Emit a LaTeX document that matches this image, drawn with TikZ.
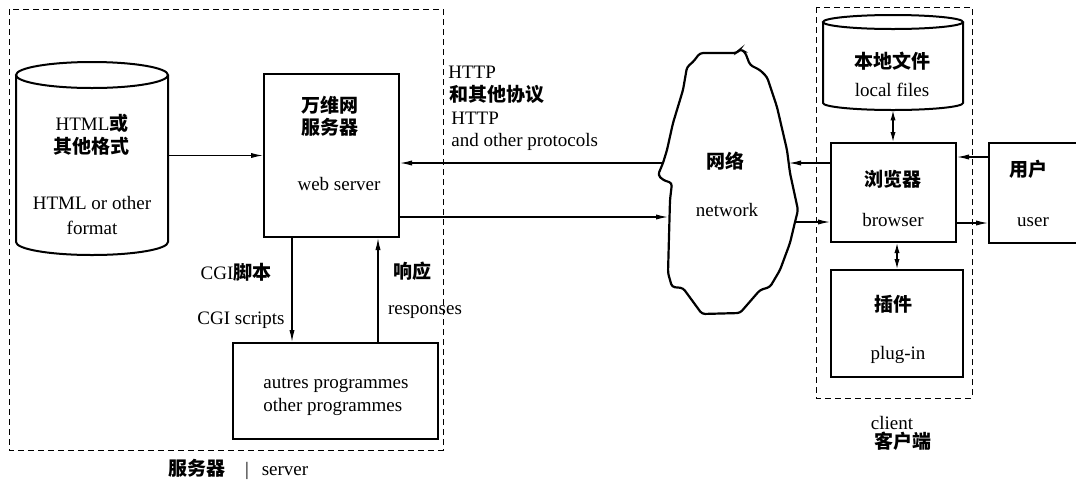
\documentclass[tikz,border=0pt]{standalone}
\usepackage{fontspec}
\setmainfont{Liberation Serif}
\newfontfamily\cjk{Noto Sans CJK SC}
\usetikzlibrary{arrows.meta}
\newcommand\zh[1]{{\cjk\bfseries #1}}
\begin{document}
\begin{tikzpicture}[x=0.5pt,y=0.5pt,
  box/.style={draw, line width=1pt, inner sep=0pt},
  ghost/.style={inner sep=0pt},
  arr/.style={line width=0.6pt, -{Latex[length=6pt,width=2.6pt]}},
  darr/.style={line width=0.6pt, {Latex[length=5pt,width=2.6pt]}-{Latex[length=5pt,width=2.6pt]}},
  frame/.style={line width=0.5pt, dash pattern=on 3pt off 2pt},
  lbl/.style={inner sep=0pt, font=\fontsize{9.5}{11.5}\selectfont, text height=6.5pt, text depth=0pt},
  lblw/.style={lbl, anchor=west}]
\useasboundingbox (0,0) rectangle (1076,-483);
% frames
\draw[frame] (9,-9) rectangle (443,-450);
\draw[frame] (816,-7) rectangle (972,-398);
% database cylinder (server)
\node[ghost, minimum width=76pt, minimum height=96.5pt] (db) at (92,-158.5) {};
\draw[line width=1pt] (16,-75) -- (16,-242) arc[start angle=180,end angle=360,x radius=76,y radius=13] -- (168,-75);
\draw[line width=1pt] (92,-75) ellipse[x radius=76,y radius=13];
% local files cylinder
\node[ghost, minimum width=70pt, minimum height=47.5pt] (lf) at (893,-62.5) {};
\draw[line width=1pt] (823,-22) -- (823,-103) arc[start angle=180,end angle=360,x radius=70,y radius=7] -- (963,-22);
\draw[line width=1pt] (893,-22) ellipse[x radius=70,y radius=7];
% boxes
\node[box, minimum width=67.5pt, minimum height=81.5pt] (ws) at (331.5,-155.5) {};
\node[box, minimum width=102.5pt, minimum height=48pt] (prog) at (335.5,-391) {};
\node[box, minimum width=62.5pt, minimum height=49.5pt] (br) at (893.5,-192.5) {};
\node[box, minimum width=66pt, minimum height=53.5pt] (plug) at (897,-323.5) {};
\node[box, minimum width=50pt, minimum height=50pt] (usr) at (1039,-193) {};
% network cloud
\draw[line width=1.1pt, rounded corners=1.5pt] (700,-53) -- (737,-53) -- (740,-49) -- (745,-52) -- (750,-65) -- (760,-70) -- (767,-77) -- (777,-107) -- (787,-150) -- (790,-173) -- (798,-210) -- (795,-222) -- (790,-243) -- (780,-270) -- (770,-287) -- (760,-290) -- (740,-313) -- (702,-314) -- (683,-288) -- (672,-287) -- (668,-273) -- (670,-200) -- (672,-183) -- (663,-180) -- (658,-175) -- (663,-163) -- (667,-150) -- (673,-123) -- (683,-90) -- (687,-67) -- (693,-62) -- cycle;
\coordinate (nL1) at (664,-163);
\coordinate (nL2) at (668,-217);
\coordinate (nR1) at (789,-163);
\coordinate (nR2) at (796,-222);
% connectors
\draw[arr] (db.east |- ws.west) -- (ws.west);
\draw[arr] (nL1) -- (nL1 -| ws.east);
\draw[arr] (nL2 -| ws.east) -- (nL2);
\draw[arr] ([xshift=-19.75pt]ws.south) -- ([xshift=-19.75pt]ws.south |- prog.north);
\draw[arr] ([xshift=23.25pt]ws.south |- prog.north) -- ([xshift=23.25pt]ws.south);
\draw[arr] (nR1 -| br.west) -- (nR1);
\draw[arr] (nR2) -- (nR2 -| br.west);
\draw[darr] (lf.south) -- (lf.south |- br.north);
\draw[darr] (plug.north) -- (plug.north |- br.south);
\draw[arr] ([yshift=18pt]usr.west) -- ([yshift=18pt]usr.west -| br.east);
\draw[arr] ([yshift=-15pt]usr.west -| br.east) -- ([yshift=-15pt]usr.west);
% labels
\node[lbl] (t1) at (92,-124) {HTML\zh{或}};
\node[lbl] (t2) at (92,-147) {\zh{其他格式}};
\node[lbl] (t3) at (92,-203) {HTML or other};
\node[lbl] (t4) at (92,-228) {format};
\node[lbl] (t5) at (330,-106) {\zh{万维网}};
\node[lbl] (t6) at (330,-128) {\zh{服务器}};
\node[lbl] (t7) at (339,-184) {web server};
\node[lblw] (t8) at (263,-382) {autres programmes};
\node[lblw] (t9) at (263,-405) {other programmes};
\node[lbl] (t10) at (236,-273) {CGI\zh{脚本}};
\node[lbl] (t11) at (241,-318) {CGI scripts};
\node[lbl] (t12) at (412,-272) {\zh{响应}};
\node[lbl] (t13) at (425,-308) {responses};
\node[lblw] (t14) at (448,-72) {HTTP};
\node[lblw] (t15) at (449,-95) {\zh{和其他协议}};
\node[lblw] (t16) at (451,-118) {HTTP};
\node[lblw] (t17) at (451,-140) {and other protocols};
\node[lbl] (t18) at (725,-162) {\zh{网络}};
\node[lbl] (t19) at (727,-210) {network};
\node[lbl] (t20) at (892,-62) {\zh{本地文件}};
\node[lbl] (t21) at (892,-90) {local files};
\node[lbl] (t22) at (893,-180) {\zh{浏览器}};
\node[lbl] (t23) at (893,-220) {browser};
\node[lbl] (t24) at (893,-305) {\zh{插件}};
\node[lbl] (t25) at (898,-353) {plug-in};
\node[lbl] (t26) at (1028,-170) {\zh{用户}};
\node[lbl] (t27) at (1033,-220) {user};
\node[lbl] (t28) at (892,-423) {client};
\node[lbl] (t29) at (903,-442) {\zh{客户端}};
\node[lbl] (t30) at (197,-469) {\zh{服务器}};
\node[lbl] (t31) at (247,-469) {|};
\node[lbl] (t32) at (285,-469) {server};
\end{tikzpicture}
\end{document}
